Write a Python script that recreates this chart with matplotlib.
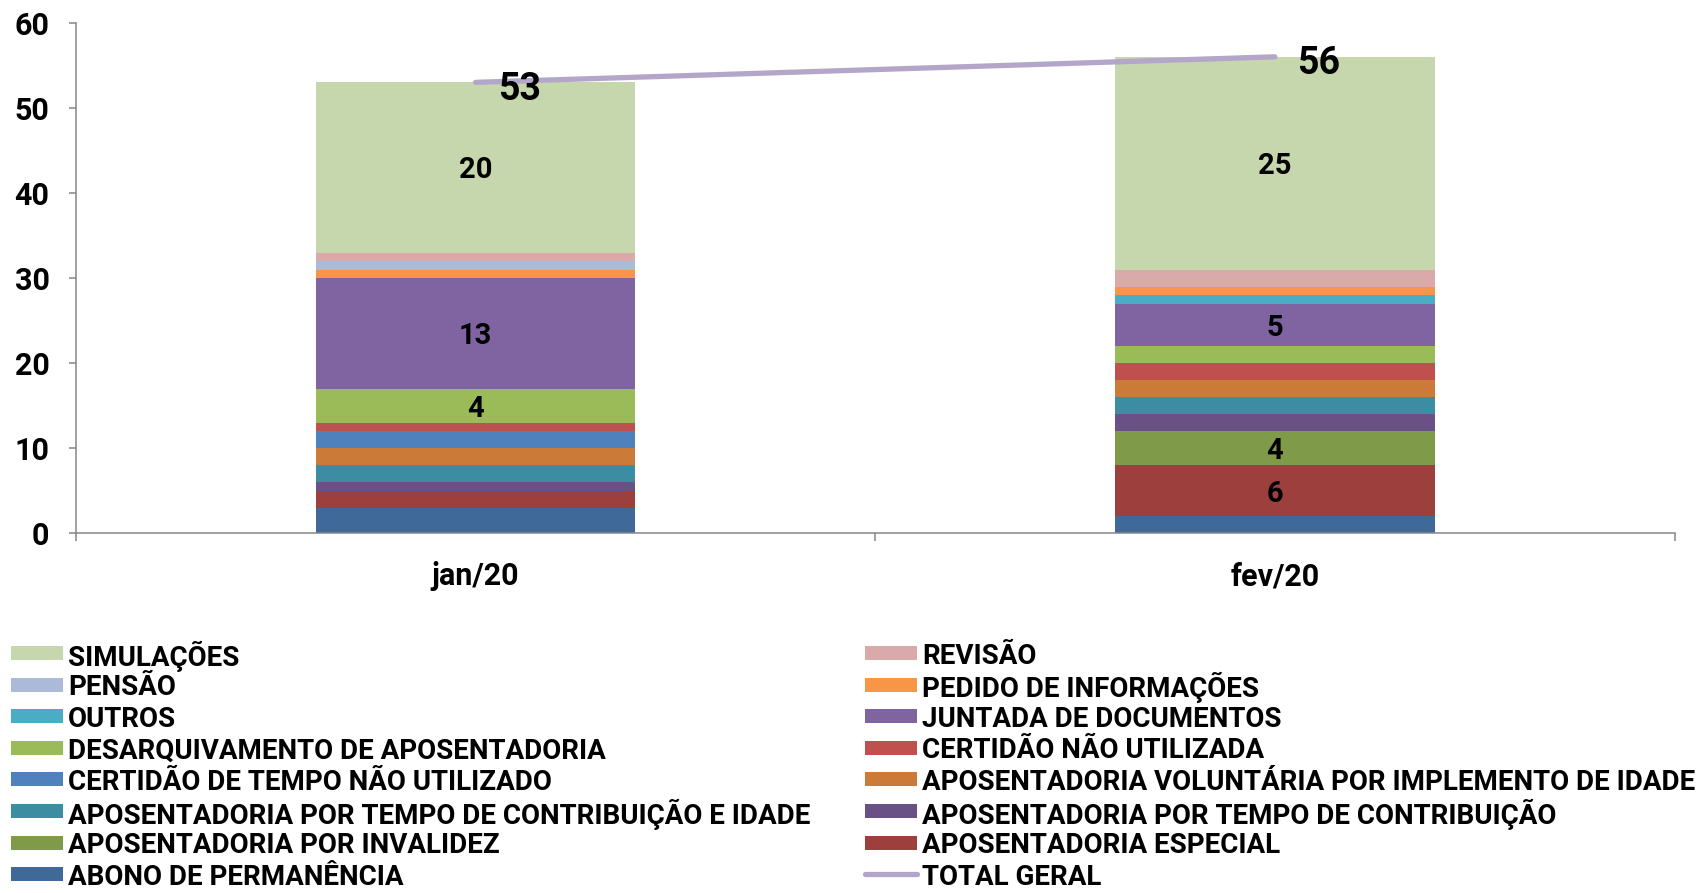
import numpy as np
import matplotlib
matplotlib.use("Agg")
import matplotlib.pyplot as plt
from matplotlib.patches import Rectangle
from matplotlib.lines import Line2D

plt.rcParams['font.family'] = ['Roboto', 'DejaVu Sans']
plt.rcParams['font.weight'] = 'bold'

# data (series listed bottom to top of the stack)
categories = ['jan/20', 'fev/20']
series = [
    'ABONO DE PERMANÊNCIA',
    'APOSENTADORIA ESPECIAL',
    'APOSENTADORIA POR INVALIDEZ',
    'APOSENTADORIA POR TEMPO DE CONTRIBUIÇÃO',
    'APOSENTADORIA POR TEMPO DE CONTRIBUIÇÃO E IDADE',
    'APOSENTADORIA VOLUNTÁRIA POR IMPLEMENTO DE IDADE',
    'CERTIDÃO DE TEMPO NÃO UTILIZADO',
    'CERTIDÃO NÃO UTILIZADA',
    'DESARQUIVAMENTO DE APOSENTADORIA',
    'JUNTADA DE DOCUMENTOS',
    'OUTROS',
    'PEDIDO DE INFORMAÇÕES',
    'PENSÃO',
    'REVISÃO',
    'SIMULAÇÕES',
]
jan_values = [3, 2, 0, 1, 2, 2, 2, 1, 4, 13, 0, 1, 1, 1, 20]
fev_values = [2, 6, 4, 2, 2, 2, 0, 2, 2, 5, 1, 1, 0, 2, 25]
total_geral = [53, 56]
total_label = 'TOTAL GERAL'

colors = ['#3F6998', '#9C3F3D', '#7F9A48', '#695185', '#3C8CA2',
          '#CB7A38', '#4F81BD', '#C0504D', '#9BBB59', '#8064A2',
          '#4BACC6', '#F79646', '#AABAD8', '#D9AAA9', '#C6D6AD']
line_color = '#B3A6C8'
gray = '#868686'

W, H = 1700, 893
fig = plt.figure(figsize=(W / 100, H / 100), dpi=100)
ax = fig.add_axes([0.0447, 0.4027, 0.9403, 0.5718])

x = np.arange(len(categories))
values = np.array([jan_values, fev_values]).T
bottom = np.zeros(len(categories))
for name, vals, col in zip(series, values, colors):
    ax.bar(x, vals, 0.4, bottom=bottom, color=col, label=name, zorder=2)
    for xi, v, bt in zip(x, vals, bottom):
        if v >= 4:
            ax.text(xi, bt + v / 2, str(v), ha='center', va='center_baseline',
                    fontsize=21, fontweight='bold', zorder=4)
    bottom = bottom + vals

ax.plot(x, total_geral, color=line_color, lw=3.8, solid_capstyle='round', zorder=3)
for xi, t in zip(x, total_geral):
    ax.annotate(str(t), (xi, t), xytext=(16, -5), textcoords='offset points',
                ha='left', va='center', fontsize=27, fontweight='bold', zorder=5)

ax.set_xlim(-0.5, 1.5)
ax.set_ylim(0, 60)
ax.set_yticks(np.arange(0, 61, 10))
ax.set_xticks(x)
ax.set_xticklabels(categories)
ax.set_xticks([-0.5, 0.5, 1.5], minor=True)
ax.tick_params(axis='y', labelsize=22, length=5, width=1.1, color=gray, pad=14)
ax.tick_params(axis='x', which='major', labelsize=22, length=0, pad=20)
ax.tick_params(axis='x', which='minor', length=6, width=1.1, color=gray)
for s in ['top', 'right']:
    ax.spines[s].set_visible(False)
for s in ['left', 'bottom']:
    ax.spines[s].set_color(gray)
    ax.spines[s].set_linewidth(1.1)

# legend drawn row by row in two columns (top entry of the stack first)
entries = list(zip(series[::-1], colors[::-1])) + [(total_label, None)]
col_x = [11, 865]
row0, row_step = 653, 31.6
for i, (name, col) in enumerate(entries):
    cx = col_x[i % 2]
    cy = row0 + row_step * (i // 2)
    if col is None:
        fig.add_artist(Line2D([cx / W, (cx + 52) / W], [1 - cy / H, 1 - cy / H],
                              color=line_color, lw=3.8, solid_capstyle='round'))
    else:
        fig.add_artist(Rectangle((cx / W, 1 - (cy + 7) / H), 52 / W, 14 / H,
                                 facecolor=col, edgecolor='none'))
    fig.text((cx + 57) / W, 1 - cy / H, name, ha='left', va='center_baseline',
             fontsize=20, fontweight='bold')

fig.savefig('out.png', dpi=100)
